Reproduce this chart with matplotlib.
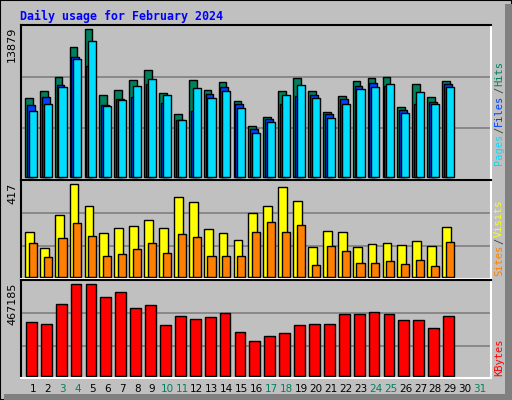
import matplotlib
matplotlib.use('Agg')
from matplotlib import pyplot as plt

days = list(range(1, 32))
day_labels = [str(d) for d in days]
weekend_days = [3, 4, 10, 11, 17, 18, 24, 25, 31]

hits = [7360, 8030, 9350, 12180, 13879, 7650, 8120, 9060, 10010, 7840, 5850, 9060, 8120, 8870,
        7080, 4720, 5570, 8030, 9250, 8030, 6040, 7550, 8970, 9250, 9350, 6510, 8690, 7460, 8970]
files = [6700, 7460, 8590, 11230, 10380, 6700, 7270, 7460, 8690, 6890, 5290, 6140, 7740, 8400,
         6800, 4440, 5380, 6800, 7550, 7650, 5850, 7270, 8500, 8780, 8500, 6230, 6800, 6990, 8690]
pages = [6140, 6800, 8400, 11040, 12740, 6610, 7170, 8500, 9160, 7650, 5290, 8310, 7360, 8020,
         6420, 4060, 5100, 7650, 8590, 7360, 5480, 6800, 8210, 8400, 8690, 5950, 7930, 6800, 8400]
visits = [200, 128, 277, 417, 317, 196, 218, 227, 254, 218, 358, 336, 214, 196, 164, 286, 317,
          403, 340, 134, 205, 200, 134, 146, 151, 142, 160, 137, 223]
sites = [151, 87, 173, 241, 182, 92, 101, 123, 151, 105, 191, 178, 92, 92, 92, 200, 245, 200,
         232, 51, 137, 114, 60, 60, 69, 56, 74, 47, 155]
kbytes = [272800, 262600, 364900, 467185, 467185, 400700, 426300, 344400, 359800, 257500,
          303500, 288100, 298400, 318800, 221700, 175600, 201200, 216500, 257500, 262600,
          262600, 313700, 313700, 324000, 313700, 283000, 283000, 242100, 303500]

BG = '#c0c0c0'
W, H = 512, 400
fig = plt.figure(figsize=(5.12, 4.0), dpi=100, facecolor=BG)

# 3d-ish frame
fig.patches.append(plt.Rectangle((0, 0), 1, 1, transform=fig.transFigure, fill=False,
                                 ec='black', lw=1.5))
fig.patches.append(plt.Rectangle((505 / W, 0), 7 / W, 1 - 4 / H, transform=fig.transFigure,
                                 fc='#808080', ec='none'))
fig.patches.append(plt.Rectangle((4 / W, 0), 1 - 4 / W, 6 / H, transform=fig.transFigure,
                                 fc='#808080', ec='none'))

mono = 'DejaVu Sans Mono'
fig.text(20 / W, 1 - 16 / H, 'Daily usage for February 2024', color='#0000ff',
         family=mono, weight='bold', fontsize=8.4, va='center')

x0, x1 = 20.7, 491.0
xmin, xmax = 0.175, 31.74


def make_panel(top, bot, base, maxtop, maxval):
    ax = fig.add_axes([x0 / W, 1 - bot / H, (x1 - x0) / W, (bot - top) / H])
    ax.set_facecolor(BG)
    u = maxval / (base - maxtop)
    ax.set_ylim(-(bot - base) * u, (base - top) * u)
    ax.set_xlim(xmin, xmax)
    for f in (1 / 3, 2 / 3):
        ax.plot([0, 1], [f, f], transform=ax.transAxes, color='#808080', lw=1.2, zorder=0)
    ax.set_xticks([])
    ax.set_yticks([])
    ax.spines['top'].set_color('black')
    ax.spines['left'].set_color('black')
    ax.spines['right'].set_color('white')
    ax.spines['bottom'].set_color('white')
    for s in ax.spines.values():
        s.set_linewidth(1.5)
    fig.text(12 / W, 1 - top / H - 2 / H, str(maxval), rotation=90, va='top', ha='center',
             fontsize=8, color='black')
    return ax


n = len(hits)
xs = days[:n]

ax1 = make_panel(25, 180, 176.7, 29, 13879)
ax1.bar([x - 0.28 for x in xs], hits, width=0.52, color='#00805c', ec='black', lw=1)
ax1.bar([x - 0.155 for x in xs], files, width=0.53, color='#0040ff', ec='black', lw=1)
ax1.bar([x - 0.02 for x in xs], pages, width=0.54, color='#00ddff', ec='black', lw=1)

ax2 = make_panel(180.3, 279.3, 276.7, 184.3, 417)
ax2.bar([x - 0.245 for x in xs], visits, width=0.59, color='#ffff00', ec='black', lw=1)
ax2.bar([x - 0.02 for x in xs], sites, width=0.54, color='#ff8000', ec='black', lw=1)

ax3 = make_panel(280.3, 378.3, 375.7, 284.3, 467185)
ax3.bar([x - 0.11 for x in xs], kbytes, width=0.72, color='#ff0000', ec='black', lw=1)

# day labels
for d in days:
    xp = x0 + (d - xmin) / (xmax - xmin) * (x1 - x0)
    fig.text(xp / W, 1 - 389 / H, day_labels[d - 1], ha='center', va='center', fontsize=7.5,
             color='#008060' if d in weekend_days else 'black')

renderer = fig.canvas.get_renderer()


def side_label(parts, ybottom):
    y = ybottom
    for txt, col in parts:
        t = fig.text(499 / W, 1 - y / H, txt, rotation=90, ha='center', va='bottom',
                     color=col, family=mono, fontsize=7.5)
        y -= t.get_window_extent(renderer).height + 1


side_label([('Pages', '#00ddff'), ('/', '#404040'), ('Files', '#0040ff'),
            ('/', '#404040'), ('Hits', '#00805c')], 165)
side_label([('Sites', '#ff8000'), ('/', '#404040'), ('Visits', '#ffff00')], 276)
side_label([('KBytes', '#ff0000')], 376)

fig.savefig('out.png', dpi=100, facecolor=BG)
